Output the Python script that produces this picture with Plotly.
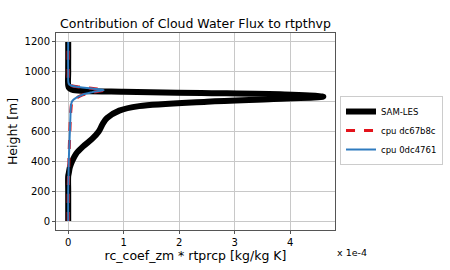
import plotly.graph_objects as go

# SAM-LES profile
les_z = [0, 100, 200, 300, 320, 360, 400, 450, 500, 550, 600, 650, 690, 740, 770, 800, 818, 833, 848, 858, 866, 872, 880, 895, 1000, 1100, 1200]
les_x = [0, 0, 0, 0, 0.01, 0.03, 0.07, 0.14, 0.27, 0.43, 0.55, 0.62, 0.70, 0.92, 1.28, 2.5, 3.7, 4.6, 3.9, 2.4, 1.0, 0.3, 0.07, 0.01, 0, 0, 0]

# CPU profiles
cpu_z = [0, 200, 300, 400, 500, 600, 700, 750, 785, 805, 825, 845, 862, 878, 888, 898, 908, 920, 1000, 1200]
cpu1_x = [0, 0, 0.005, 0.012, 0.02, 0.03, 0.04, 0.05, 0.06, 0.08, 0.15, 0.26, 0.44, 0.66, 0.45, 0.2, 0.06, 0.01, 0, 0]
cpu2_x = [0, 0, 0.005, 0.01, 0.02, 0.03, 0.04, 0.045, 0.055, 0.075, 0.14, 0.25, 0.42, 0.64, 0.43, 0.19, 0.05, 0.01, 0, 0]

x_ticks = [0, 1, 2, 3, 4]
y_ticks = [0, 200, 400, 600, 800, 1000, 1200]

fig = go.Figure()
fig.add_trace(go.Scatter(x=les_x, y=les_z, mode="lines", name="SAM-LES",
                         line=dict(color="black", width=6, shape="spline")))
fig.add_trace(go.Scatter(x=cpu1_x, y=cpu_z, mode="lines", name="cpu dc67b8c",
                         line=dict(color="#e3131b", width=3, dash="dash", shape="spline")))
fig.add_trace(go.Scatter(x=cpu2_x, y=cpu_z, mode="lines", name="cpu 0dc4761",
                         line=dict(color="#2f7bbf", width=2, shape="spline")))

fig.update_layout(
    width=450, height=270,
    margin=dict(l=56, r=115, t=33, b=40, autoexpand=False),
    paper_bgcolor="white", plot_bgcolor="white",
    font=dict(family="DejaVu Sans", color="black", size=10),
    title=dict(text="Contribution of Cloud Water Flux to rtpthvp", x=(56+335)/2/450, xanchor="center",
               y=1 - 24/270, yanchor="middle", font=dict(size=12.5)),
    xaxis=dict(range=[-0.22, 4.81], tickvals=x_ticks, showgrid=True, gridcolor="#c8c8c8",
               zeroline=False, showline=True, linecolor="#555", mirror=True, ticks="outside",
               ticklen=3, tickcolor="#555", automargin=False,
               title=dict(text="rc_coef_zm * rtprcp [kg/kg K]", font=dict(size=12.5), standoff=0)),
    yaxis=dict(range=[-60, 1260], tickvals=y_ticks, showgrid=True, gridcolor="#c8c8c8",
               zeroline=False, showline=True, linecolor="#555", mirror=True, ticks="outside",
               ticklen=3, tickcolor="#555", automargin=False,
               title=dict(text="Height [m]", font=dict(size=12.5), standoff=4)),
    legend=dict(x=1.018, y=0.505, xanchor="left", yanchor="middle", bgcolor="white",
                bordercolor="#ccc", borderwidth=1, font=dict(size=8.5), tracegroupgap=0,
                itemwidth=30),
    showlegend=True,
)
fig.add_annotation(text="x 1e-4", xref="paper", yref="paper", x=(335-56)/279, y=-(253-230)/198,
                   xanchor="left", yanchor="middle", showarrow=False, font=dict(size=9.5))

fig.write_html("out.html")
